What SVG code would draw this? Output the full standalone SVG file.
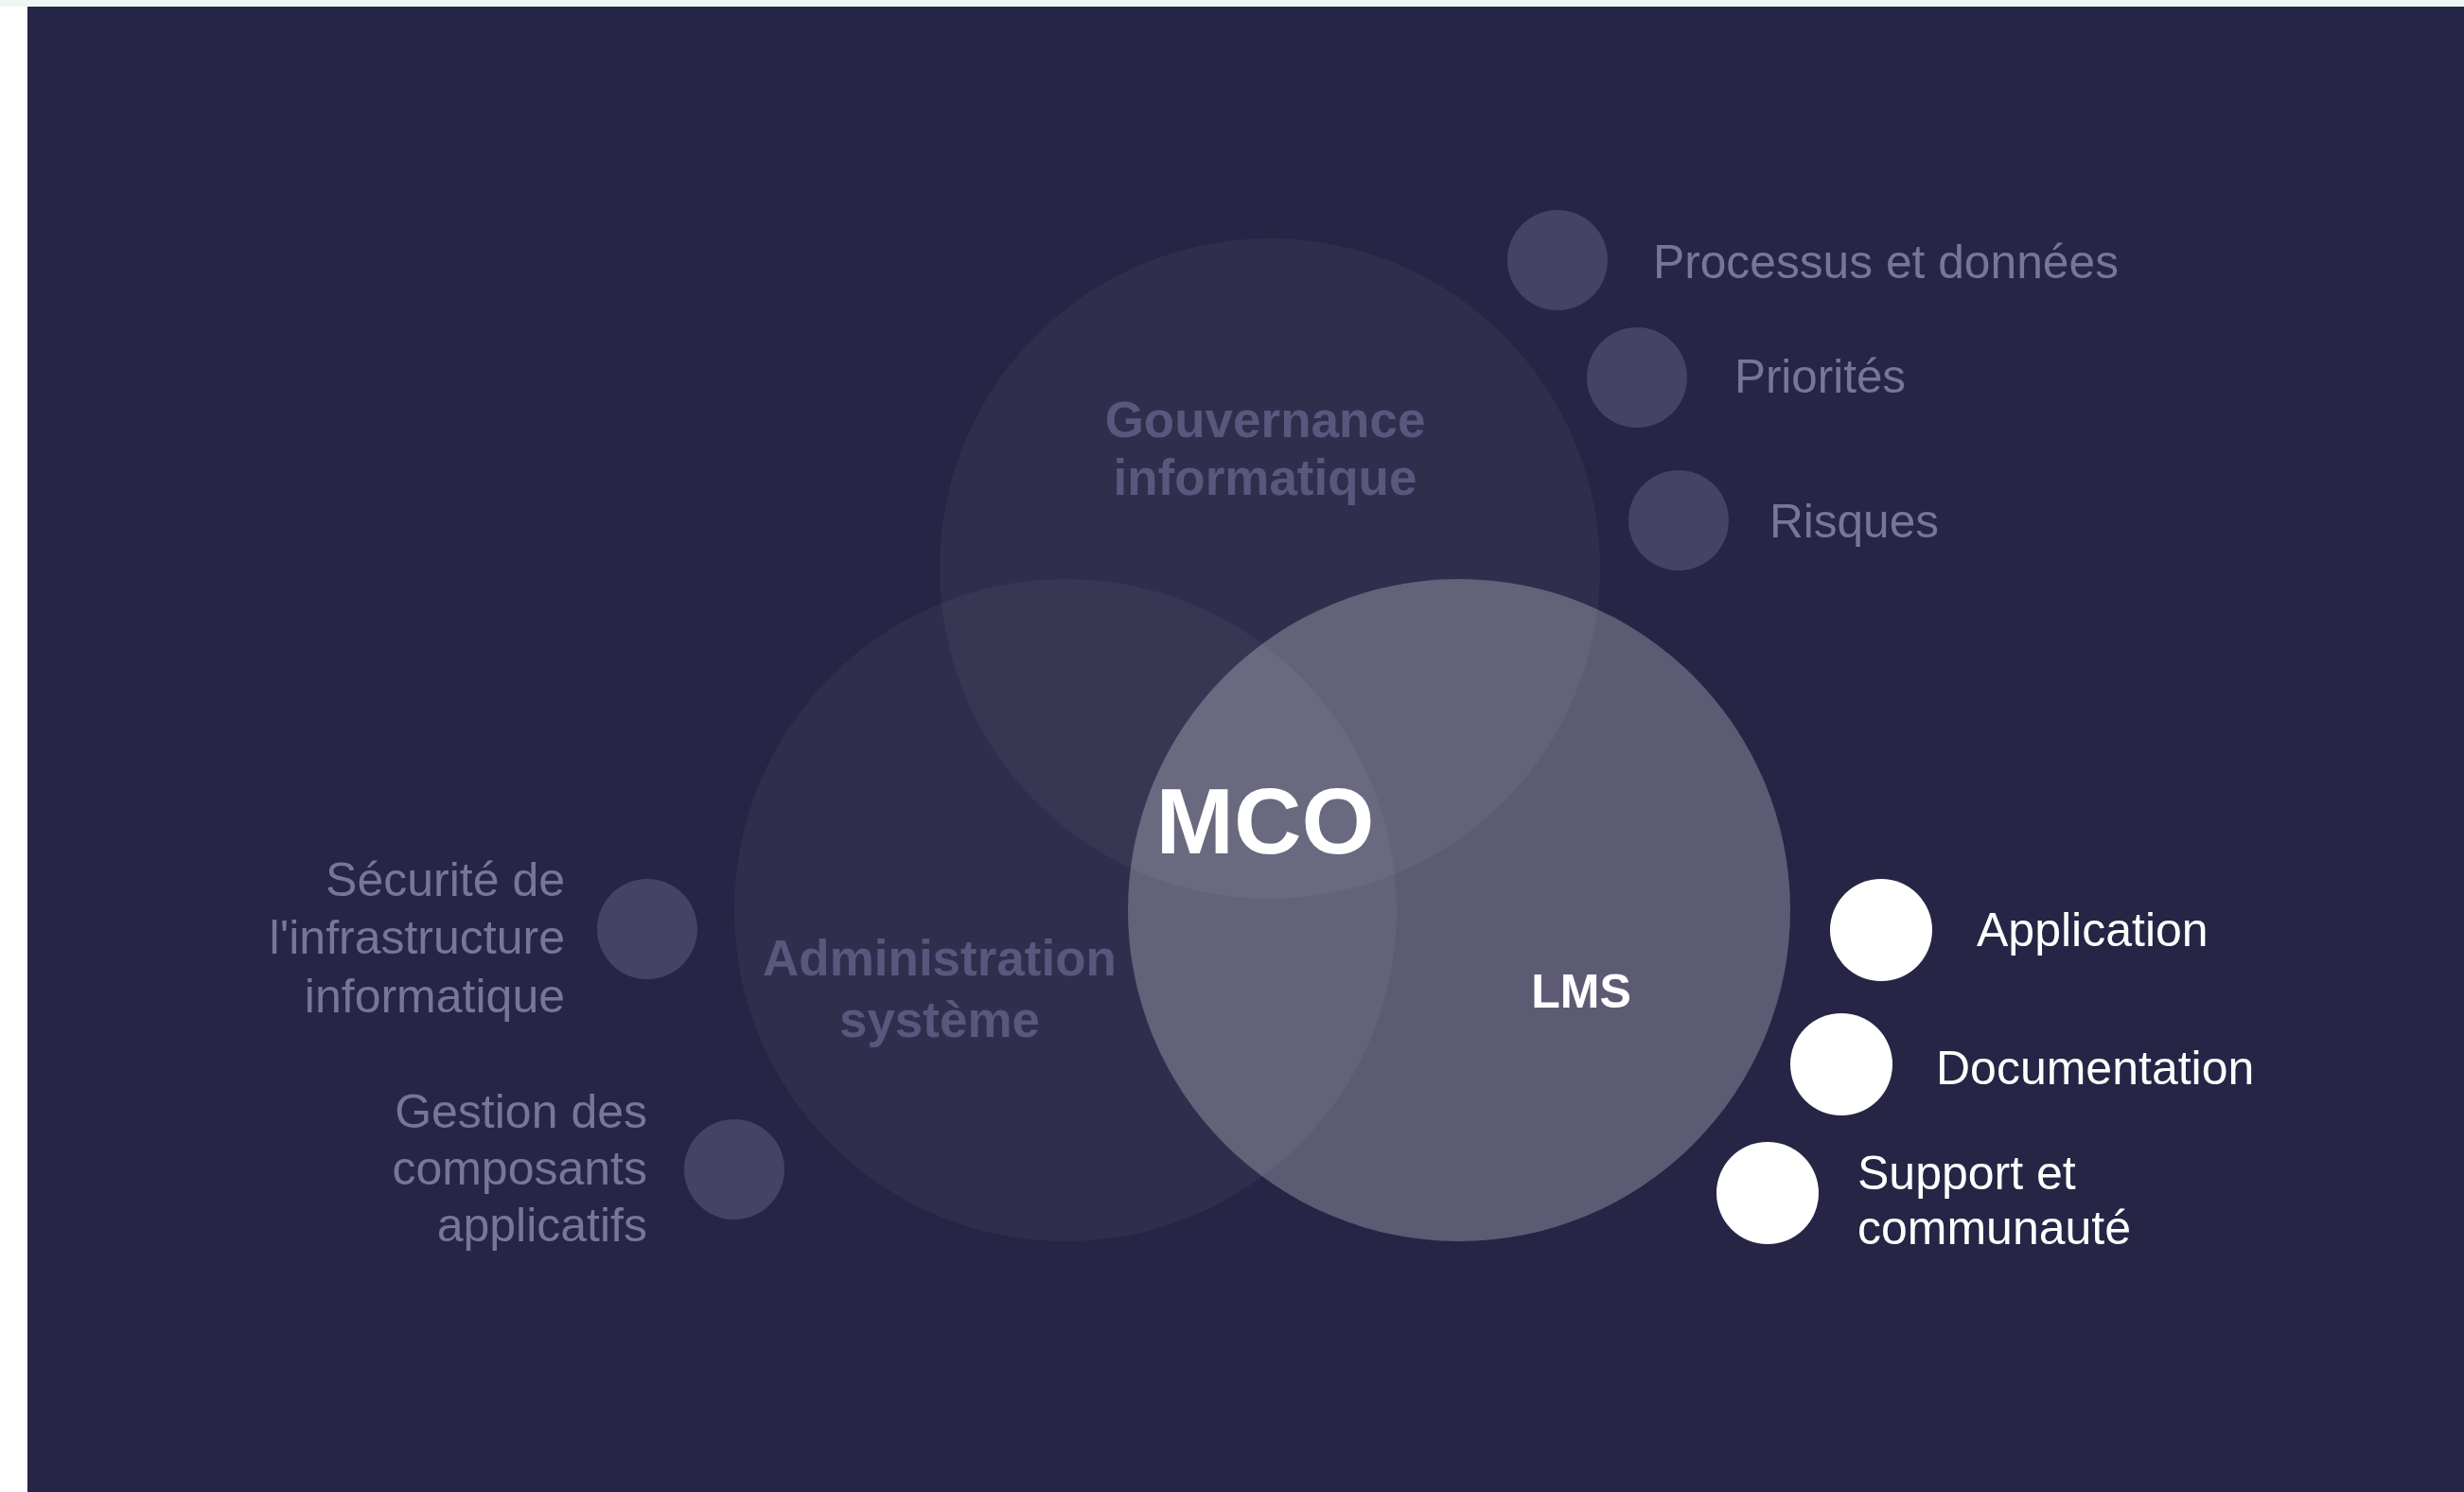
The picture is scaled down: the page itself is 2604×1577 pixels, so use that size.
<svg xmlns="http://www.w3.org/2000/svg" width="2604" height="1577" viewBox="0 0 2604 1577">
<style>
text{font-family:"Liberation Sans",Arial,sans-serif}
.bg{fill:#262545}
.big{fill:#ffffff;fill-opacity:0.045}
.lms{fill:#ffffff;fill-opacity:0.25}
.dot{fill:#444366}
.wdot{fill:#ffffff}
.title{font-weight:bold;font-size:53px;fill:#58577d;text-anchor:middle}
.side{font-size:50px;fill:#77769a}
.wl{font-size:50px;fill:#ffffff}
</style>
<rect x="0" y="0" width="2604" height="1577" fill="#ffffff"/>
<rect x="0" y="0" width="2604" height="7" fill="#eef5f5"/>
<rect class="bg" x="29" y="7" width="2575" height="1570"/>
<g id="connectors"/>
<g id="gouvernance">
<circle class="big" cx="1342" cy="601" r="349"/>
<text class="title" x="1337" y="462">Gouvernance</text>
<text class="title" x="1337" y="523">informatique</text>
</g>
<g id="administration">
<circle class="big" cx="1126" cy="962" r="350"/>
<text class="title" x="993" y="1031">Administration</text>
<text class="title" x="993" y="1096">système</text>
</g>
<g id="lms">
<circle class="lms" cx="1542" cy="962" r="350"/>
<text x="1671" y="1065" font-size="50" font-weight="bold" fill="#ffffff" text-anchor="middle">LMS</text>
</g>
<g id="mco">
<text x="1337" y="902" font-size="99" font-weight="bold" fill="#ffffff" text-anchor="middle">MCO</text>
</g>
<g id="processus">
<circle class="dot" cx="1646" cy="275" r="53"/>
<text class="side" x="1747" y="294" textLength="492" lengthAdjust="spacingAndGlyphs">Processus et données</text>
</g>
<g id="priorites">
<circle class="dot" cx="1730" cy="399" r="53"/>
<text class="side" x="1833" y="415" textLength="181" lengthAdjust="spacingAndGlyphs">Priorités</text>
</g>
<g id="risques">
<circle class="dot" cx="1774" cy="550" r="53"/>
<text class="side" x="1870" y="568" textLength="179" lengthAdjust="spacingAndGlyphs">Risques</text>
</g>
<g id="securite">
<circle class="dot" cx="684" cy="982" r="53"/>
<text class="side" text-anchor="end" x="597" y="947">Sécurité de</text>
<text class="side" text-anchor="end" x="597" y="1008">l'infrastructure</text>
<text class="side" text-anchor="end" x="597" y="1070">informatique</text>
</g>
<g id="gestion">
<circle class="dot" cx="776" cy="1236" r="53"/>
<text class="side" text-anchor="end" x="684" y="1192">Gestion des</text>
<text class="side" text-anchor="end" x="684" y="1252">composants</text>
<text class="side" text-anchor="end" x="684" y="1312">applicatifs</text>
</g>
<g id="application">
<circle class="wdot" cx="1988" cy="983" r="54"/>
<text class="wl" x="2089" y="1000">Application</text>
</g>
<g id="documentation">
<circle class="wdot" cx="1946" cy="1125" r="54"/>
<text class="wl" x="2046" y="1146">Documentation</text>
</g>
<g id="support">
<circle class="wdot" cx="1868" cy="1261" r="54"/>
<text class="wl" x="1963" y="1257">Support et</text>
<text class="wl" x="1963" y="1315">communauté</text>
</g>
</svg>
